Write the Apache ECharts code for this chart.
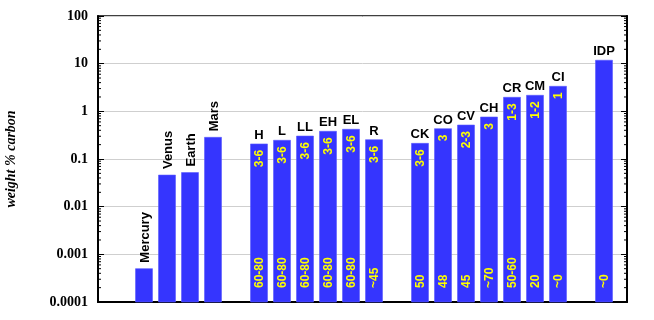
<!DOCTYPE html>
<html>
<head>
<meta charset="utf-8">
<script src="https://cdn.jsdelivr.net/npm/echarts@6/dist/echarts.min.js"></script>
<style>
  html, body { margin: 0; padding: 0; background: #fff; }
  #carbon-chart { width: 654px; height: 320px; }
</style>
</head>
<body>
<div id="carbon-chart"></div>
<script>
// slots along the x axis, '' = empty gap between groups
var categories = ['', '', 'Mercury', 'Venus', 'Earth', 'Mars', '', 'H', 'L', 'LL', 'EH', 'EL', 'R', '',
  'CK', 'CO', 'CV', 'CH', 'CR', 'CM', 'CI', '', 'IDP', '']
var carbonValues = [null, null, 0.0005, 0.046, 0.052, 0.285, null, 0.207, 0.247, 0.303, 0.381, 0.42, 0.254, null,
  0.213, 0.433, 0.516, 0.76, 1.97, 2.17, 3.35, null, 11.8, null]
// yellow text inside the bars (upper and lower)
var upperNotes = ['', '', '', '', '', '', '', '3-6', '3-6', '3-6', '3-6', '3-6', '3-6', '',
  '3-6', '3', '2-3', '3', '1-3', '1-2', '1', '', '', '']
var lowerNotes = ['', '', '', '', '', '', '', '60-80', '60-80', '60-80', '60-80', '60-80', '~45', '',
  '50', '48', '45', '~70', '50-60', '20', '~0', '', '~0', '']
var planets = ['Mercury', 'Venus', 'Earth', 'Mars']
var yTickLabels = ['0.0001', '0.001', '0.01', '0.1', '1', '10', '100']

var SANS = '"Liberation Sans", Arial, sans-serif'
var SERIF = '"Liberation Serif", "Times New Roman", serif'
var BAR_BLUE = '#3535fe'
var Y_MIN = 0.0001
var Y_MAX = 100

var chart = echarts.init(document.getElementById('carbon-chart'))

function logLabel(v) {
  var idx = Math.round(Math.log10(v)) + 4
  return yTickLabels[idx] !== undefined ? yTickLabels[idx] : ''
}

// [slot index, value] pairs, skipping the empty slots
var barData = []
carbonValues.forEach(function (v, i) {
  if (v !== null) barData.push([i, v])
})

// log minor tick values 2..9 in each decade (axis decoration only)
var minorTickValues = []
for (var e = -4; e < 2; e++) {
  for (var m = 2; m <= 9; m++) minorTickValues.push([0, m * Math.pow(10, e)])
}

function renderBar(params, api) {
  var i = api.value(0)
  var top = api.coord([i, api.value(1)])
  var base = api.coord([i, Y_MIN])
  var w = 17
  var name = categories[i]
  var isPlanet = planets.indexOf(name) >= 0
  var children = [{
    type: 'rect',
    shape: { x: top[0] - w / 2, y: top[1], width: w, height: base[1] - top[1] },
    style: { fill: BAR_BLUE, stroke: '#5a5aff', lineWidth: 0.6 }
  }]
  var nameFont = 'bold 13px ' + SANS
  var noteFont = 'bold 12px ' + SANS
  if (isPlanet) {
    children.push({
      type: 'text', x: top[0] + 1, y: top[1] - 6, rotation: Math.PI / 2,
      style: { text: name, font: nameFont, fill: '#000', align: 'left', verticalAlign: 'middle' }
    })
  } else {
    children.push({
      type: 'text', x: top[0], y: top[1] - 2,
      style: { text: name, font: nameFont, fill: '#000', align: 'center', verticalAlign: 'bottom' }
    })
  }
  if (upperNotes[i]) {
    children.push({
      type: 'text', x: top[0] + 1, y: top[1] + 6, rotation: Math.PI / 2,
      style: { text: upperNotes[i], font: noteFont, fill: '#ffff00', align: 'right', verticalAlign: 'middle' }
    })
  }
  if (lowerNotes[i]) {
    children.push({
      type: 'text', x: top[0] + 1, y: base[1] - 14, rotation: Math.PI / 2,
      style: { text: lowerNotes[i], font: noteFont, fill: '#ffff00', align: 'left', verticalAlign: 'middle' }
    })
  }
  return { type: 'group', children: children }
}

function renderMinorTick(params, api) {
  var v = api.value(1)
  var left = api.coord([0, v])
  var right = api.coord([categories.length - 1, v])
  var len = 3
  var s = { stroke: '#000', lineWidth: 1 }
  return {
    type: 'group',
    children: [
      { type: 'line', shape: { x1: left[0], y1: left[1], x2: left[0] + len, y2: left[1] }, style: s },
      { type: 'line', shape: { x1: right[0], y1: right[1], x2: right[0] - len, y2: right[1] }, style: s }
    ]
  }
}

var yAxisCommon = {
  type: 'log',
  logBase: 10,
  min: Y_MIN,
  max: Y_MAX,
  axisLine: { show: true, lineStyle: { color: '#000', width: 2 } },
  axisTick: { show: true, inside: true, length: 6, lineStyle: { color: '#000' } }
}

chart.setOption({
  animation: false,
  grid: {
    left: 98, right: 27, top: 16, bottom: 18,
    containLabel: false,
    outerBoundsMode: 'none',
    show: true, borderColor: '#000', borderWidth: 1.5
  },
  xAxis: {
    type: 'category',
    data: categories,
    boundaryGap: false,
    axisLine: { lineStyle: { color: '#000', width: 2 } },
    axisTick: { show: false },
    axisLabel: { show: false },
    splitLine: { show: false }
  },
  yAxis: [
    Object.assign({}, yAxisCommon, {
      position: 'left',
      axisLabel: {
        color: '#000', fontFamily: SERIF, fontWeight: 'bold', fontSize: 14, margin: 10,
        formatter: logLabel
      },
      splitLine: { show: true, lineStyle: { color: '#cfcfcf', width: 1 } },
      name: 'weight % carbon',
      nameLocation: 'middle',
      nameGap: 80,
      nameTextStyle: { color: '#000', fontFamily: SERIF, fontWeight: 'bold', fontStyle: 'italic', fontSize: 14 }
    }),
    Object.assign({}, yAxisCommon, {
      position: 'right',
      axisLabel: { show: false },
      splitLine: { show: false }
    })
  ],
  series: [
    {
      type: 'custom',
      renderItem: renderMinorTick,
      data: minorTickValues,
      encode: { x: 0, y: 1 },
      silent: true,
      clip: false
    },
    {
      type: 'custom',
      renderItem: renderBar,
      data: barData,
      encode: { x: 0, y: 1 },
      clip: false
    }
  ]
})
</script>
</body>
</html>
